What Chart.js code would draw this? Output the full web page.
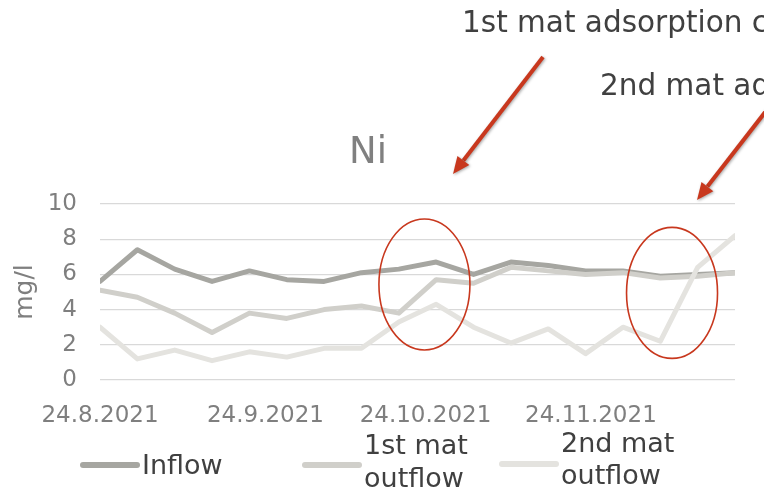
<!DOCTYPE html>
<html>
<head>
<meta charset="utf-8">
<title>Ni</title>
<script src="https://cdn.jsdelivr.net/npm/chart.js@4.4.1/dist/chart.umd.min.js"></script>
<style>
  html, body { margin: 0; padding: 0; background: #ffffff; }
  #wrap { position: relative; width: 764px; height: 496px; overflow: hidden; }
</style>
</head>
<body>
<div id="wrap"><canvas id="chart"></canvas></div>
<script>
// Weekly sampling dates and Ni concentrations (mg/l)
const sampleDates = ['2021-08-24', '2021-08-31', '2021-09-07', '2021-09-14', '2021-09-21', '2021-09-28',
  '2021-10-05', '2021-10-12', '2021-10-19', '2021-10-26', '2021-11-02', '2021-11-09',
  '2021-11-16', '2021-11-23', '2021-11-30', '2021-12-07', '2021-12-14', '2021-12-21'];
const inflow    = [5.6, 7.4, 6.3, 5.6, 6.2, 5.7, 5.6, 6.1, 6.3, 6.7, 6.0, 6.7, 6.5, 6.2, 6.2, 5.9, 6.0, 6.1];
const firstMat  = [5.1, 4.7, 3.8, 2.7, 3.8, 3.5, 4.0, 4.2, 3.8, 5.7, 5.5, 6.4, 6.2, 6.0, 6.1, 5.8, 5.9, 6.1];
const secondMat = [3.0, 1.2, 1.7, 1.1, 1.6, 1.3, 1.8, 1.8, 3.3, 4.3, 3.0, 2.1, 2.9, 1.5, 3.0, 2.2, 6.4, 8.2];

// Date axis: monthly labelled ticks
const tickDates = ['2021-08-24', '2021-09-24', '2021-10-24', '2021-11-24'];
const seriesNames = ['Inflow', ['1st mat', 'outflow'], ['2nd mat', 'outflow']];
const seriesColors = ['#a6a6a1', '#d0cfca', '#e4e3df'];
const yTicks = [0, 2, 4, 6, 8, 10];

const DAY = 86400000;
const toUTC = s => { const [y, m, d] = s.split('-').map(Number); return Date.UTC(y, m - 1, d); };
const t0 = toUTC(sampleDates[0]);
const dayOf = s => Math.round((toUTC(s) - t0) / DAY);
const fmtDay = v => { const d = new Date(t0 + v * DAY); return d.getUTCDate() + '.' + (d.getUTCMonth() + 1) + '.' + d.getUTCFullYear(); };
const tickDays = tickDates.map(dayOf);
const points = arr => arr.map((v, i) => ({ x: dayOf(sampleDates[i]), y: v }));

const FONT = '"DejaVu Sans", Verdana, sans-serif';

function arrow(ctx, x1, y1, x2, y2) {
  const ang = Math.atan2(y2 - y1, x2 - x1);
  const head = 17, half = 7.5;
  const bx = x2 - head * Math.cos(ang), by = y2 - head * Math.sin(ang);
  ctx.beginPath();
  ctx.moveTo(x1, y1);
  ctx.lineTo(bx, by);
  ctx.stroke();
  ctx.beginPath();
  ctx.moveTo(x2, y2);
  ctx.lineTo(bx + half * Math.sin(ang), by - half * Math.cos(ang));
  ctx.lineTo(bx - half * Math.sin(ang), by + half * Math.cos(ang));
  ctx.closePath();
  ctx.fill();
}

const decorations = {
  id: 'decorations',
  afterDraw(chart) {
    const ctx = chart.ctx;
    const xs = chart.scales.x, ys = chart.scales.y;
    ctx.save();

    // chart title
    ctx.fillStyle = '#808080';
    ctx.font = '37px ' + FONT;
    ctx.textAlign = 'center';
    ctx.textBaseline = 'alphabetic';
    ctx.fillText('Ni', 368, 163);

    // legend
    ctx.lineCap = 'round';
    ctx.lineWidth = 6;
    ctx.font = '27px ' + FONT;
    ctx.textAlign = 'left';
    ctx.textBaseline = 'middle';
    const legend = [
      { x: 83, y: 465, ty: [467] },
      { x: 305, y: 465, ty: [447, 480] },
      { x: 502, y: 464, ty: [445, 477] }
    ];
    legend.forEach((it, i) => {
      ctx.strokeStyle = seriesColors[i];
      ctx.beginPath();
      ctx.moveTo(it.x, it.y);
      ctx.lineTo(it.x + 54, it.y);
      ctx.stroke();
      ctx.fillStyle = '#404040';
      const lines = [].concat(seriesNames[i]);
      lines.forEach((t, k) => ctx.fillText(t, it.x + 59, it.ty[k]));
    });

    // annotations
    ctx.fillStyle = '#404040';
    ctx.font = '29.5px ' + FONT;
    ctx.textBaseline = 'alphabetic';
    ctx.fillText('1st mat adsorption capacity', 462, 32);
    ctx.fillText('2nd mat adsorption capacity', 600, 95);

    ctx.strokeStyle = '#c8381e';
    ctx.lineWidth = 1.6;
    const ellipses = [[60.8, 5.43], [107.2, 4.95]];
    ellipses.forEach(([dx, vy]) => {
      ctx.beginPath();
      ctx.ellipse(xs.getPixelForValue(dx), ys.getPixelForValue(vy), 45.5, 65.5, 0, 0, Math.PI * 2);
      ctx.stroke();
    });

    ctx.shadowColor = 'rgba(0,0,0,0.35)';
    ctx.shadowBlur = 3;
    ctx.shadowOffsetX = 1;
    ctx.shadowOffsetY = 1;
    ctx.strokeStyle = '#c8381e';
    ctx.fillStyle = '#c8381e';
    ctx.lineWidth = 4;
    ctx.lineCap = 'butt';
    arrow(ctx, 543, 57, 453, 174);
    arrow(ctx, 780, 93, 697, 200);
    ctx.restore();
  }
};

new Chart(document.getElementById('chart'), {
  type: 'line',
  data: {
    datasets: [
      { label: 'Inflow', data: points(inflow), borderColor: seriesColors[0], order: 3 },
      { label: '1st mat outflow', data: points(firstMat), borderColor: seriesColors[1], order: 2 },
      { label: '2nd mat outflow', data: points(secondMat), borderColor: seriesColors[2], order: 1 }
    ]
  },
  options: {
    responsive: true,
    maintainAspectRatio: false,
    animation: false,
    events: [],
    elements: {
      line: { borderWidth: 5, tension: 0, borderCapStyle: 'round', borderJoinStyle: 'round', fill: false },
      point: { radius: 0 }
    },
    layout: { padding: { left: 0, top: 204, right: 29, bottom: 56 } },
    plugins: { legend: { display: false }, title: { display: false }, tooltip: { enabled: false } },
    scales: {
      x: {
        type: 'linear',
        min: 0,
        max: dayOf(sampleDates[sampleDates.length - 1]),
        grid: { display: false },
        border: { display: false },
        afterBuildTicks: s => { s.ticks = tickDays.map(v => ({ value: v })); },
        afterFit: s => { s.height = 60; },
        ticks: {
          autoSkip: false,
          maxRotation: 0,
          padding: 14,
          color: '#7f7f7f',
          font: { family: FONT, size: 23 },
          callback: v => fmtDay(v)
        }
      },
      y: {
        min: 0,
        max: 10,
        afterBuildTicks: s => { s.ticks = yTicks.map(v => ({ value: v })); },
        afterFit: s => { s.width = 100; },
        grid: { color: '#d9d9d9', lineWidth: 1.3, drawTicks: false },
        border: { display: false },
        ticks: { padding: 23, color: '#7f7f7f', font: { family: FONT, size: 23 } },
        title: {
          display: true,
          text: 'mg/l',
          color: '#7f7f7f',
          font: { family: FONT, size: 25 },
          padding: { top: 10, bottom: 0 }
        }
      }
    }
  },
  plugins: [decorations]
});
</script>
</body>
</html>
